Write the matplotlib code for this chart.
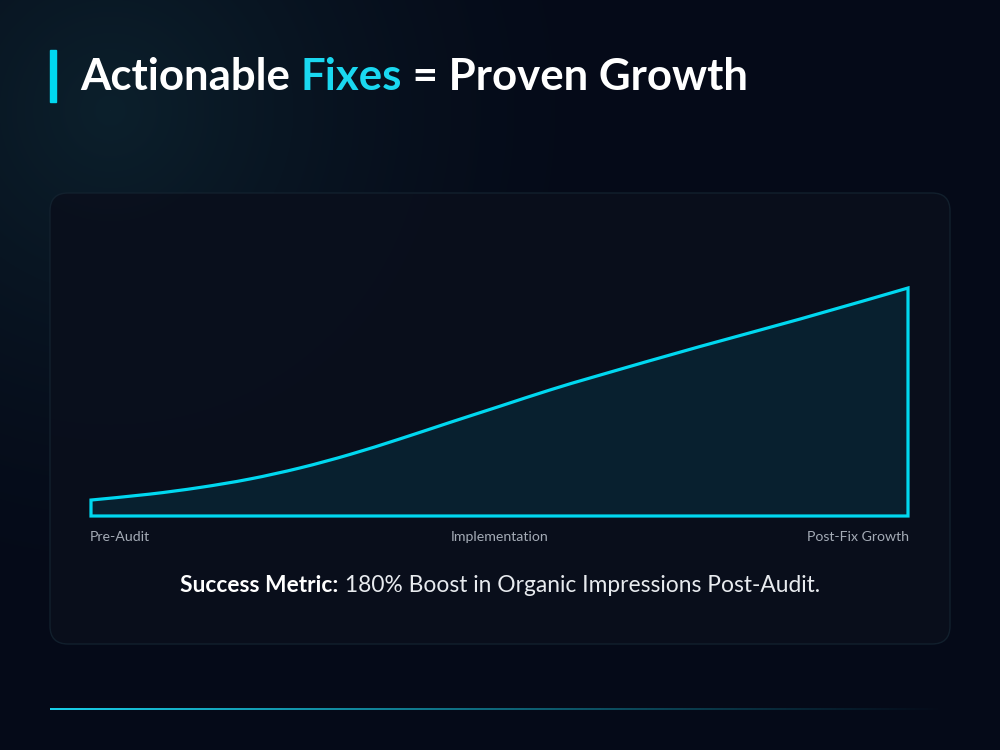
import matplotlib.pyplot as plt
import numpy as np
from matplotlib.path import Path
from matplotlib.patches import FancyBboxPatch, PathPatch, Rectangle

# Chart data
stage_labels = ["Pre-Audit", "Implementation", "Post-Fix Growth"]
progress = [0, 7.2, 13.3, 19.4, 25.6, 31.7, 37.8, 43.9, 50.1, 56.2, 62.3, 74.5, 86.8, 100]
impressions = [7.0, 9.6, 12.5, 16.2, 21.1, 27.0, 33.8, 41.0, 48.2, 55.3, 61.8, 74.3, 86.4, 100]

title_parts = [("Actionable ", "white"), ("Fixes", "#1ad8f0"), (" = Proven Growth", "white")]
metric_bold = "Success Metric:"
metric_text = " 180% Boost in Organic Impressions Post-Audit."

CYAN = "#00d8f0"
FILL = "#08202f"
BG = np.array([5, 10, 24]) / 255
GLOW = np.array([12, 32, 44]) / 255
FONT = "Lato"


def smooth_area_path(xs, ys):
    """Closed area path: baseline -> smooth curve (Catmull-Rom as cubic beziers) -> baseline."""
    pts = np.column_stack([xs, ys]).astype(float)
    verts = [(pts[0, 0], 0.0), tuple(pts[0])]
    codes = [Path.MOVETO, Path.LINETO]
    n = len(pts)
    for i in range(n - 1):
        p0 = pts[max(i - 1, 0)]
        p1 = pts[i]
        p2 = pts[i + 1]
        p3 = pts[min(i + 2, n - 1)]
        c1 = p1 + (p2 - p0) / 6
        c2 = p2 - (p3 - p1) / 6
        verts += [tuple(c1), tuple(c2), tuple(p2)]
        codes += [Path.CURVE4] * 3
    verts += [(pts[-1, 0], 0.0), (pts[0, 0], 0.0), (pts[0, 0], 0.0)]
    codes += [Path.LINETO, Path.LINETO, Path.CLOSEPOLY]
    return Path(verts, codes)


fig = plt.figure(figsize=(10, 7.5), dpi=100)

# Background layer in pixel coordinates
bg = fig.add_axes([0, 0, 1, 1])
bg.set_xlim(0, 1000)
bg.set_ylim(750, 0)
bg.axis("off")

yy, xx = np.mgrid[0:750, 0:1000]
d = np.sqrt((xx - 110) ** 2 + (yy - 110) ** 2)
w = np.clip(1 - d / 520, 0, 1) ** 1.6
img = BG[None, None, :] * (1 - w[..., None]) + GLOW[None, None, :] * w[..., None]
bg.imshow(img, extent=(0, 1000, 750, 0), aspect="auto", zorder=0)

# Title + accent bar
bg.add_patch(Rectangle((50, 50), 6, 52, color=CYAN, zorder=2))
fig.canvas.draw()
r = fig.canvas.get_renderer()
x = 80
for txt, col in title_parts:
    t = bg.text(x, 77, txt, color=col, fontsize=31.5, fontweight="bold",
                family=FONT, va="center", ha="left", zorder=3)
    x += t.get_window_extent(renderer=r).width

# Panel
panel = FancyBboxPatch((50, 193), 900, 451, boxstyle="round,pad=0,rounding_size=18",
                       facecolor="#0a0f1c", edgecolor="#13222f", linewidth=1,
                       alpha=0.9, zorder=1)
bg.add_patch(panel)

# Stage labels
label_x = [90, 500, 909]
aligns = ["left", "center", "right"]
for lx, lab, ha in zip(label_x, stage_labels, aligns):
    bg.text(lx, 537, lab, color="#a4abb6", fontsize=10.2, family=FONT,
            ha=ha, va="center", zorder=3)

# Success metric line, centred
t1 = bg.text(0, 586, metric_bold, color="white", fontsize=16.4, fontweight="bold",
             family=FONT, ha="left", va="center", zorder=3)
t2 = bg.text(0, 586, metric_text, color="#e8ebef", fontsize=16.4,
             family=FONT, ha="left", va="center", zorder=3)
w1 = t1.get_window_extent(renderer=r).width
w2 = t2.get_window_extent(renderer=r).width
start = 500 - (w1 + w2) / 2
t1.set_x(start)
t2.set_x(start + w1)

# Bottom gradient rule
fade = np.linspace(1, 0, 400) ** 1.1
rule = np.zeros((1, 400, 4))
rule[..., 0], rule[..., 1], rule[..., 2] = 0.1, 0.82, 0.92
rule[..., 3] = fade
bg.imshow(rule, extent=(50, 950, 710, 708), aspect="auto", zorder=2,
          interpolation="bilinear")
bg.set_xlim(0, 1000)
bg.set_ylim(750, 0)

# Area chart
ax = fig.add_axes([0.091, (750 - 516) / 750, 0.817, 228 / 750])
ax.set_xlim(0, 100)
ax.set_ylim(0, 100)
ax.axis("off")
ax.add_patch(PathPatch(smooth_area_path(progress, impressions), facecolor=FILL,
                       edgecolor=CYAN, linewidth=2.3, joinstyle="miter",
                       clip_on=False, zorder=2))

fig.savefig("out.png", dpi=100, facecolor=BG)
